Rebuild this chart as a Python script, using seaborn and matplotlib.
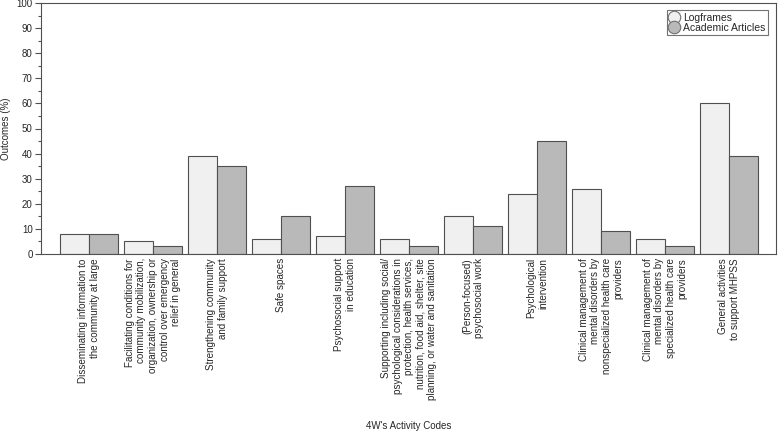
import matplotlib
matplotlib.use("Agg")
import matplotlib.pyplot as plt
import seaborn as sns
import pandas as pd
from matplotlib.ticker import MultipleLocator
from matplotlib.lines import Line2D

categories = [
    "Disseminating information to\nthe community at large",
    "Facilitating conditions for\ncommunity mobilization,\norganization, ownership or\ncontrol over emergency\nrelief in general",
    "Strengthening community\nand family support",
    "Safe spaces",
    "Psychosocial support\nin education",
    "Supporting including social/\npsychological considerations in\nprotection, health services,\nnutrition, food aid, shelter, site\nplanning, or water and sanitation",
    "(Person-focused)\npsychosocial work",
    "Psychological\nintervention",
    "Clinical management of\nmental disorders by\nnonspecialized health care\nproviders",
    "Clinical management of\nmental disorders by\nspecialized health care\nproviders",
    "General activities\nto support MHPSS",
]
logframes = [8, 5, 39, 6, 7, 6, 15, 24, 26, 6, 60]
academic = [8, 3, 35, 15, 27, 3, 11, 45, 9, 3, 39]
series_names = ["Logframes", "Academic Articles"]
colors = ["#f0f0f0", "#b9b9b9"]

df = pd.DataFrame({
    "cat": categories * 2,
    "val": logframes + academic,
    "series": [series_names[0]] * len(categories) + [series_names[1]] * len(categories),
})

sns.set_style("white")
plt.rcParams["font.family"] = ["Liberation Sans", "DejaVu Sans"]

fig = plt.figure(figsize=(7.78, 4.32), dpi=100)
ax = fig.add_axes([41 / 778, (432 - 254) / 432, (776 - 41) / 778, (254 - 3) / 432])

sns.barplot(data=df, x="cat", y="val", hue="series", ax=ax,
            palette=colors, width=0.9, gap=0,
            edgecolor="#505050", linewidth=0.8, saturation=1, legend=False)

ax.set_ylim(0, 100)
ax.set_xlim(-0.75, 10.73)
ax.yaxis.set_major_locator(MultipleLocator(10))
ax.yaxis.set_minor_locator(MultipleLocator(5))
ax.tick_params(axis="y", which="major", length=4, width=0.8, color="#505050",
               labelsize=7, pad=2, left=True, direction="out")
ax.tick_params(axis="y", which="minor", length=2.5, width=0.8, color="#505050", left=True)
ax.tick_params(axis="x", length=0, pad=3)

ax.set_xticks(range(len(categories)))
ax.set_xticklabels(categories, rotation=90, ha="center", va="top",
                   multialignment="right", fontsize=7.1)

for s in ax.spines.values():
    s.set_color("#505050")
    s.set_linewidth(0.8)

ax.set_ylabel("Outcomes (%)", fontsize=7, labelpad=4)
ax.set_xlabel("4W's Activity Codes", fontsize=7)
ax.xaxis.set_label_coords(0.5, -0.665)

handles = [Line2D([], [], linestyle="none", marker="o", markersize=9,
                  markerfacecolor=c, markeredgecolor="#707070", markeredgewidth=0.8)
           for c in colors]
leg = ax.legend(handles, series_names, loc="upper right", bbox_to_anchor=(0.989, 0.972),
                fontsize=7.5, frameon=True, fancybox=False, edgecolor="#505050",
                handlelength=0.9, handletextpad=0.4,
                borderpad=0.25, labelspacing=0.0, borderaxespad=0)
leg.get_frame().set_linewidth(0.8)

fig.savefig("out.png", dpi=100)
